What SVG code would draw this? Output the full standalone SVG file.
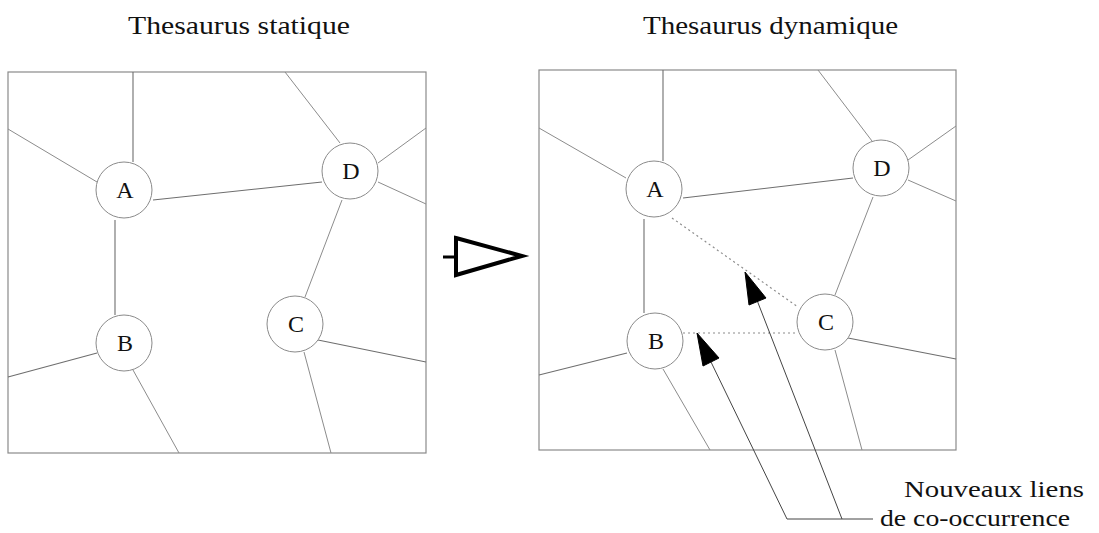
<svg xmlns="http://www.w3.org/2000/svg" width="1099" height="533" viewBox="0 0 1099 533">
<style>
.bg{fill:#fff}
.frame{fill:none;stroke:#8a8a8a;stroke-width:1.2}
.edge{stroke:#8c8c8c;stroke-width:1;fill:none}
.edgeD{stroke:#6e6e6e;stroke-width:1.1;fill:none}
.new{stroke:#8c8c8c;stroke-width:1.2;stroke-dasharray:2 3;fill:none}
.node circle{fill:#fff;stroke:#8a8a8a;stroke-width:1}
.node text{font-family:"Liberation Serif","Times New Roman",serif;font-size:24px;text-anchor:middle;fill:#111}
.title{font-family:"Liberation Serif","Times New Roman",serif;font-size:26px;fill:#111}
.lbl{font-family:"Liberation Serif","Times New Roman",serif;font-size:24px;fill:#111}
.ptr{stroke:#444;stroke-width:1;fill:none}
.head{fill:#000;stroke:#000;stroke-width:1}
</style>
<rect class="bg" x="0" y="0" width="1099" height="533"/>
<text class="title" x="128" y="34" textLength="222" lengthAdjust="spacingAndGlyphs">Thesaurus statique</text>
<text class="title" x="643" y="34" textLength="255" lengthAdjust="spacingAndGlyphs">Thesaurus dynamique</text>
<g id="panels">
<rect class="frame" x="8" y="72" width="418" height="381"/>
<rect class="frame" x="539" y="70" width="417" height="380"/>
</g>
<g id="connectors">
<!-- left -->
<line class="edgeD" x1="133" y1="72" x2="133" y2="162"/>
<line class="edge" x1="8" y1="129" x2="97" y2="182"/>
<line class="edgeD" x1="153" y1="200" x2="322" y2="182"/>
<line class="edgeD" x1="115" y1="220" x2="115" y2="315"/>
<line class="edge" x1="285" y1="72" x2="340" y2="143"/>
<line class="edge" x1="378" y1="163" x2="426" y2="128"/>
<line class="edge" x1="378" y1="182" x2="426" y2="204"/>
<line class="edge" x1="342" y1="200" x2="305" y2="297"/>
<line class="edgeD" x1="318" y1="340" x2="426" y2="362"/>
<line class="edge" x1="304" y1="352" x2="331" y2="453"/>
<line class="edgeD" x1="8" y1="377" x2="97" y2="353"/>
<line class="edge" x1="133" y1="370" x2="179" y2="453"/>
<!-- right -->
<line class="edgeD" x1="663" y1="70" x2="663" y2="161"/>
<line class="edge" x1="539" y1="128" x2="626" y2="178"/>
<line class="edgeD" x1="683" y1="198" x2="853" y2="178"/>
<line class="edgeD" x1="644" y1="219" x2="644" y2="313"/>
<line class="new" x1="672" y1="218" x2="798" y2="307"/>
<line class="new" x1="683" y1="333" x2="798" y2="333"/>
<line class="edge" x1="818" y1="70" x2="872" y2="141"/>
<line class="edge" x1="908" y1="160" x2="956" y2="126"/>
<line class="edge" x1="908" y1="180" x2="956" y2="201"/>
<line class="edge" x1="873" y1="197" x2="835" y2="295"/>
<line class="edgeD" x1="848" y1="338" x2="956" y2="359"/>
<line class="edge" x1="835" y1="350" x2="862" y2="450"/>
<line class="edgeD" x1="539" y1="375" x2="627" y2="353"/>
<line class="edge" x1="663" y1="369" x2="710" y2="450"/>
<!-- big transition arrow -->
<line x1="443" y1="257" x2="456" y2="257" stroke="#000" stroke-width="3"/>
<polygon points="456,238 522,256 456,275" fill="none" stroke="#000" stroke-width="4" stroke-linejoin="miter"/>
<!-- pointers to new links -->
<polyline class="ptr" points="711,362 787,519 873,519"/>
<line class="ptr" x1="757.5" y1="301.5" x2="842" y2="519"/>
<polygon class="head" points="745,272 749,305 766,298"/>
<polygon class="head" points="697,333 703,366 719,358"/>
</g>
<g id="nodeA1" class="node"><circle cx="124" cy="190" r="28"/><text x="125" y="198">A</text></g>
<g id="nodeB1" class="node"><circle cx="124" cy="343" r="28"/><text x="125" y="351">B</text></g>
<g id="nodeC1" class="node"><circle cx="295" cy="324" r="28"/><text x="296" y="332">C</text></g>
<g id="nodeD1" class="node"><circle cx="350" cy="171" r="28"/><text x="351" y="179">D</text></g>
<g id="nodeA2" class="node"><circle cx="654" cy="189" r="28"/><text x="655" y="197">A</text></g>
<g id="nodeB2" class="node"><circle cx="655" cy="341" r="28"/><text x="656" y="349">B</text></g>
<g id="nodeC2" class="node"><circle cx="825" cy="322" r="28"/><text x="826" y="330">C</text></g>
<g id="nodeD2" class="node"><circle cx="881" cy="168" r="28"/><text x="882" y="176">D</text></g>
<text class="lbl" x="904" y="497" textLength="180" lengthAdjust="spacingAndGlyphs">Nouveaux liens</text>
<text class="lbl" x="880" y="526" textLength="190" lengthAdjust="spacingAndGlyphs">de co-occurrence</text>
</svg>
